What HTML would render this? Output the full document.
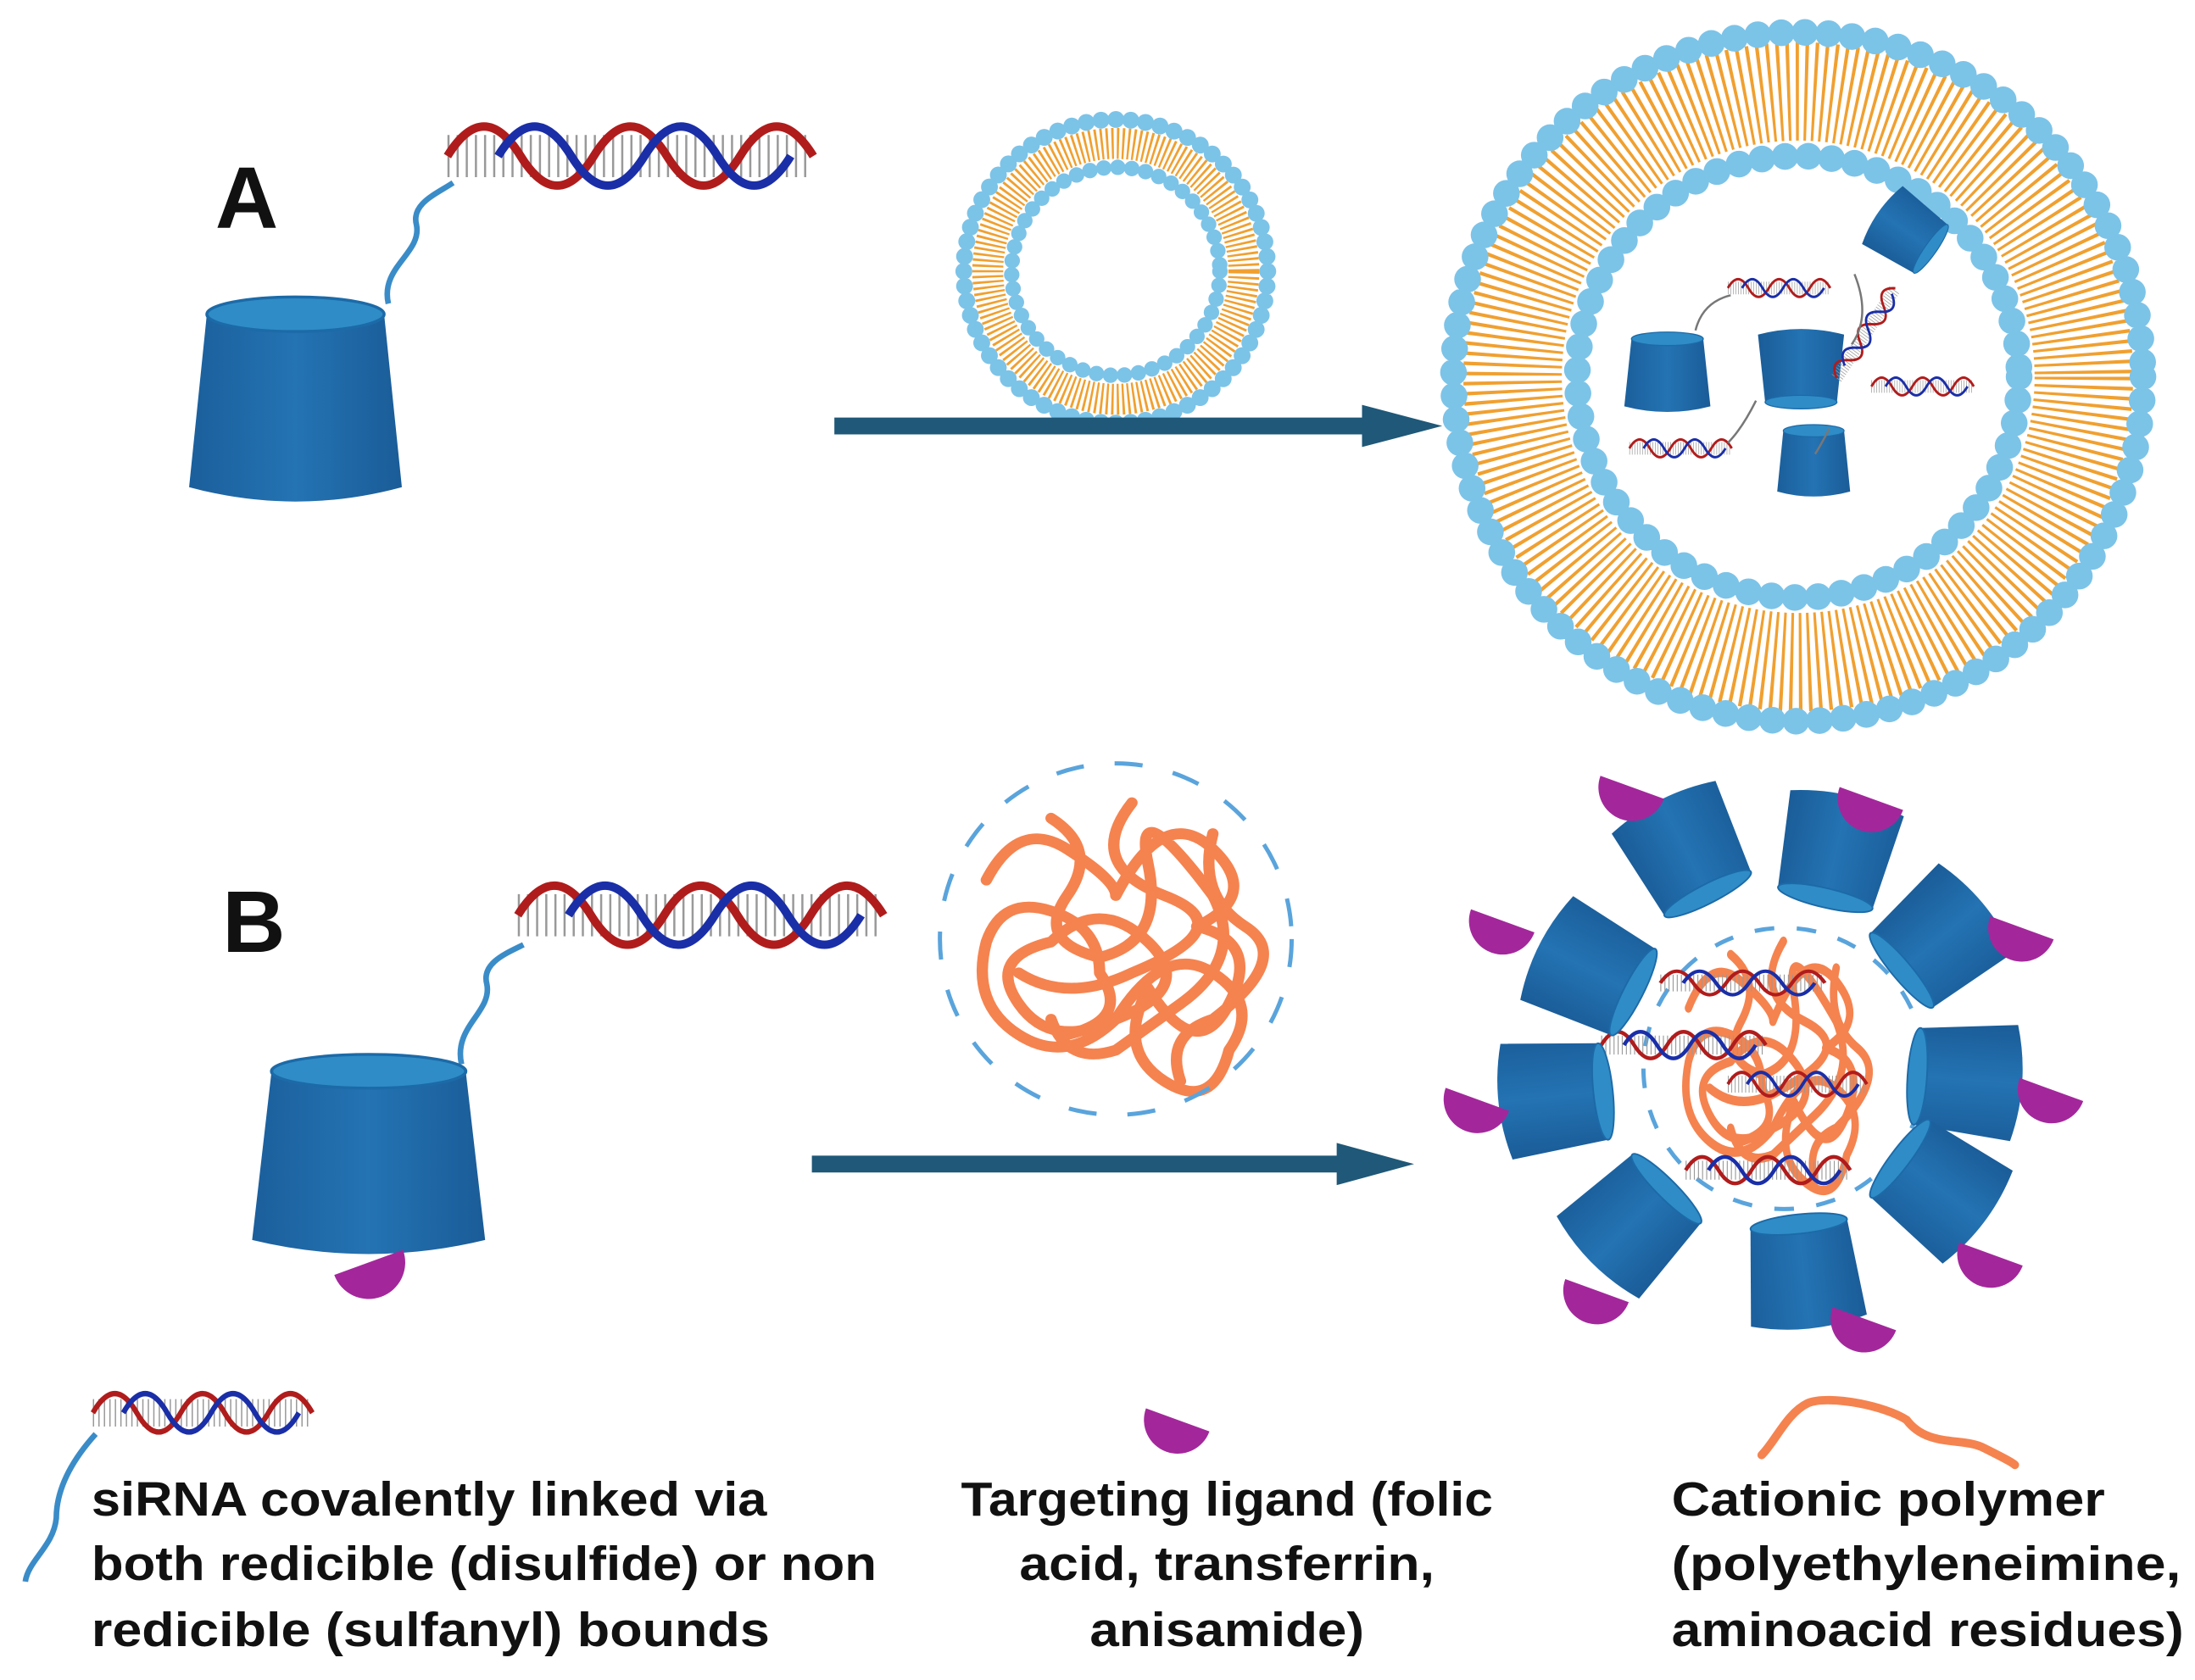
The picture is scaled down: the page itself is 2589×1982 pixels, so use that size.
<!DOCTYPE html>
<html><head><meta charset="utf-8"><style>
html,body{margin:0;padding:0;background:#fff;}
svg{display:block;}
text{font-family:"Liberation Sans",sans-serif;font-weight:bold;fill:#111;}
</style></head><body>
<svg width="2589" height="1982" viewBox="0 0 1560 1195" preserveAspectRatio="none" xmlns="http://www.w3.org/2000/svg">
<defs>
<linearGradient id="cg" x1="0" x2="1" y1="0" y2="0">
<stop offset="0" stop-color="#1b5f9c"/><stop offset="0.5" stop-color="#2473b3"/><stop offset="1" stop-color="#1a5c98"/></linearGradient>
<g id="cup">
<path d="M-30,-30 L-36,30 Q0,40 36,30 L30,-30 Z" fill="url(#cg)"/>
<ellipse cx="0" cy="-30" rx="30" ry="6" fill="#2f8cc6" stroke="#1c6aa8" stroke-width="1"/>
</g>
<g id="dna">
<line x1="0" y1="23" x2="260" y2="23" stroke="#999" stroke-width="30" stroke-dasharray="1.5 5"/>
<path d="M0,23 Q26,-19 52,23 T104,23 T156,23 T208,23 T260,23" fill="none" stroke="#b01c1c" stroke-width="6"/>
<path d="M36,23 Q62,-19 88,23 T140,23 T192,23 T244,23" fill="none" stroke="#1a2ea8" stroke-width="6"/>
</g>
<path id="lig" d="M-20,0 A20,20 0 0 0 20,0 Z" fill="#a3279b"/>
<path id="poly" d="M-80,-40 q20,-40 50,-20 t30,30 q30,-60 60,-30 t-10,50 q40,10 20,50 t-50,-10 q-20,40 10,60 t40,-20 q20,-30 -10,-50 t-60,30 q-40,20 -60,-10 t20,-40 q30,-30 60,0 t-20,50 q-30,30 -60,10 t-20,-60 q10,-30 40,-20 t30,40 q20,30 -20,40 M-40,-80 q30,20 10,50 t20,40 q40,-10 30,-60 t40,20 q20,40 -20,70 t-40,30 q-30,10 -40,-20 M10,-90 q-30,40 20,60 t-20,50 q-40,20 -70,0 M60,-70 q-10,40 20,60 t-20,60 q-30,10 -20,40" fill="none" stroke="#f5834f" stroke-width="7" stroke-linecap="round" stroke-linejoin="round"/>
</defs>

<!-- A -->
<text x="153" y="162" font-size="62">A</text>
<path d="M276,216 C270,190 300,180 296,160 C292,145 310,138 322,130" fill="none" stroke="#3a8cc8" stroke-width="4"/>
<use href="#dna" transform="translate(318,88)"/>
<use href="#cup" transform="translate(210,285) scale(2.1,2.05)"/>

<!-- small liposome -->
<circle cx="793" cy="193" r="91" fill="none" stroke="#f0a030" stroke-width="22" stroke-dasharray="1.6 2.2"/>
<circle cx="793" cy="193" r="108" fill="none" stroke="#7cc3e8" stroke-width="12" stroke-linecap="round" stroke-dasharray="0 10.6"/>
<circle cx="793" cy="193" r="74" fill="none" stroke="#7cc3e8" stroke-width="11" stroke-linecap="round" stroke-dasharray="0 10"/>

<!-- arrow A -->
<path d="M593,297 L968,297 L968,288 L1025,303 L968,318 L968,309 L593,309 Z" fill="#1f5878"/>

<!-- big liposome -->
<circle cx="1278" cy="268" r="203" fill="none" stroke="#f0a030" stroke-width="70" stroke-dasharray="2.2 4"/>
<circle cx="1278" cy="268" r="245" fill="none" stroke="#7cc3e8" stroke-width="19" stroke-linecap="round" stroke-dasharray="0 16.8"/>
<circle cx="1278" cy="268" r="157" fill="none" stroke="#7cc3e8" stroke-width="19" stroke-linecap="round" stroke-dasharray="0 16.6"/>
<circle cx="1278" cy="268" r="146" fill="#fff"/>
<use href="#cup" transform="translate(1185,265) scale(0.85,0.8)"/>
<use href="#cup" transform="translate(1280,262) scale(0.85,0.8) rotate(180)"/>
<use href="#cup" transform="translate(1289,328) scale(0.72,0.72)"/>
<use href="#cup" transform="translate(1355,165) scale(0.7,0.7) rotate(125)"/>
<use href="#dna" transform="translate(1228,198) scale(0.28,0.3)"/>
<use href="#dna" transform="translate(1330,268) scale(0.28,0.3)"/>
<use href="#dna" transform="translate(1158,312) scale(0.28,0.3)"/>
<use href="#dna" transform="translate(1300,265) scale(0.28,0.3) rotate(-55)"/>
<path d="M1205,235 q5,-20 25,-25 M1248,285 q-10,20 -20,30 M1318,195 q12,30 -2,50 M1300,305 q-5,10 -10,18" fill="none" stroke="#777" stroke-width="1.5"/>

<!-- B -->
<text x="158" y="677" font-size="62">B</text>
<path d="M328,757 C322,730 350,720 346,700 C342,685 360,678 372,672" fill="none" stroke="#3a8cc8" stroke-width="4"/>
<use href="#dna" transform="translate(368,628)"/>
<use href="#cup" transform="translate(262,822) scale(2.3,2.0)"/>
<use href="#lig" transform="translate(262,898) rotate(-20) scale(1.3)"/>

<!-- polymer ball -->
<use href="#poly" transform="translate(793,670) scale(1.15,1.1)"/>
<circle cx="793" cy="668" r="125" fill="none" stroke="#5aa4dc" stroke-width="3" stroke-dasharray="20 22"/>

<!-- arrow B -->
<path d="M577,822 L950,822 L950,813 L1005,828 L950,843 L950,834 L577,834 Z" fill="#1f5878"/>

<!-- micelle -->
<circle cx="1268" cy="760" r="100" fill="none" stroke="#5aa4dc" stroke-width="3" stroke-dasharray="14 16"/>
<use href="#poly" transform="translate(1260,755) scale(0.75,0.95)"/>
<use href="#dna" transform="translate(1180,690) scale(0.45,0.4)"/>
<use href="#dna" transform="translate(1138,733) scale(0.45,0.45)"/>
<use href="#dna" transform="translate(1228,762) scale(0.38,0.4)"/>
<use href="#dna" transform="translate(1198,822) scale(0.45,0.45)"/>
<use href="#cup" transform="translate(1198,605) rotate(153) scale(1.15)"/>
<use href="#cup" transform="translate(1305,605) rotate(-167) scale(1.15)"/>
<use href="#cup" transform="translate(1378,668) rotate(-130) scale(1.15)"/>
<use href="#cup" transform="translate(1397,768) rotate(-86) scale(1.15)"/>
<use href="#cup" transform="translate(1378,845) rotate(-53) scale(1.15)"/>
<use href="#cup" transform="translate(1282,905) rotate(-6) scale(1.15)"/>
<use href="#cup" transform="translate(1160,870) rotate(45) scale(1.15)"/>
<use href="#cup" transform="translate(1105,780) rotate(84) scale(1.15)"/>
<use href="#cup" transform="translate(1130,690) rotate(117) scale(1.15)"/>
<use href="#lig" transform="translate(1160,560) rotate(20) scale(1.2)"/>
<use href="#lig" transform="translate(1330,568) rotate(20) scale(1.2)"/>
<use href="#lig" transform="translate(1437,660) rotate(20) scale(1.2)"/>
<use href="#lig" transform="translate(1458,775) rotate(20) scale(1.2)"/>
<use href="#lig" transform="translate(1415,892) rotate(20) scale(1.2)"/>
<use href="#lig" transform="translate(1325,938) rotate(20) scale(1.2)"/>
<use href="#lig" transform="translate(1135,918) rotate(20) scale(1.2)"/>
<use href="#lig" transform="translate(1050,782) rotate(20) scale(1.2)"/>
<use href="#lig" transform="translate(1068,655) rotate(20) scale(1.2)"/>

<!-- legend -->
<use href="#dna" transform="translate(66,990) scale(0.6,0.65)"/>
<path d="M68,1020 C50,1040 40,1060 40,1080 C38,1100 20,1110 18,1125" fill="none" stroke="#3a8cc8" stroke-width="4"/>
<text x="65" y="1078" font-size="34" textLength="480" lengthAdjust="spacingAndGlyphs">siRNA covalently linked via</text>
<text x="65" y="1124" font-size="34" textLength="558" lengthAdjust="spacingAndGlyphs">both redicible (disulfide) or non</text>
<text x="65" y="1171" font-size="34" textLength="482" lengthAdjust="spacingAndGlyphs">redicible  (sulfanyl) bounds</text>

<use href="#lig" transform="translate(837,1010) rotate(20) scale(1.2)"/>
<text x="872" y="1078" font-size="34" text-anchor="middle" textLength="378" lengthAdjust="spacingAndGlyphs">Targeting ligand (folic</text>
<text x="872" y="1124" font-size="34" text-anchor="middle" textLength="295" lengthAdjust="spacingAndGlyphs">acid, transferrin,</text>
<text x="872" y="1171" font-size="34" text-anchor="middle" textLength="195" lengthAdjust="spacingAndGlyphs">anisamide)</text>

<path d="M1252,1035 C1262,1025 1270,1005 1285,998 C1300,992 1340,1000 1355,1010 C1370,1030 1395,1022 1410,1030 C1420,1035 1430,1040 1432,1042" fill="none" stroke="#f5834f" stroke-width="6" stroke-linecap="round"/>
<text x="1188" y="1078" font-size="34" textLength="308" lengthAdjust="spacingAndGlyphs">Cationic polymer</text>
<text x="1188" y="1124" font-size="34" textLength="362" lengthAdjust="spacingAndGlyphs">(polyethyleneimine,</text>
<text x="1188" y="1171" font-size="34" textLength="364" lengthAdjust="spacingAndGlyphs">aminoacid residues)</text>
</svg>
</body></html>
